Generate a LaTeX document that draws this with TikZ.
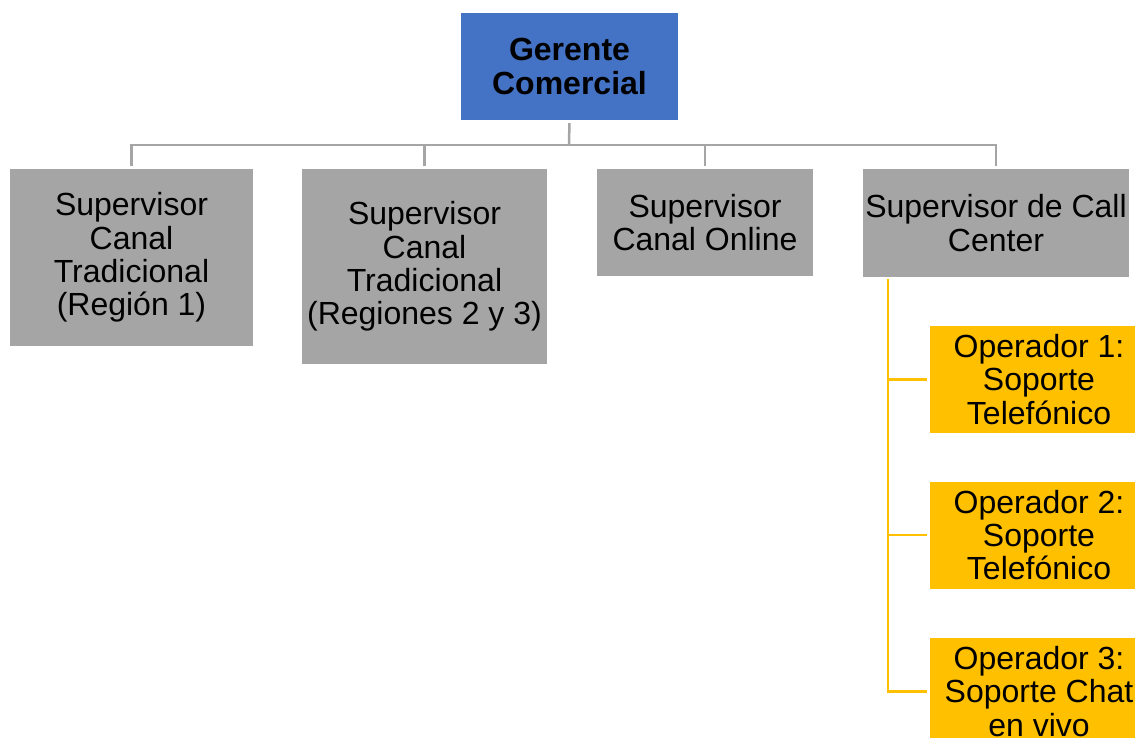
\documentclass[tikz,border=0pt]{standalone}
\usepackage{fontspec}
\setmainfont{Liberation Sans}
\definecolor{boxblue}{HTML}{4472C4}
\definecolor{boxgray}{HTML}{A5A5A5}
\definecolor{boxyel}{HTML}{FFC000}
\definecolor{linegray}{HTML}{A5A5A5}
\tikzset{
  base/.style={inner sep=0pt, align=center, font=\fontsize{32}{33.3}\selectfont, text=black},
  gerbox/.style={base, fill=boxblue, font=\fontsize{32}{33.3}\selectfont\bfseries},
  supbox/.style={base, fill=boxgray},
  opbox/.style={base, fill=boxyel},
  conn/.style={draw=linegray, line width=2.5pt},
  yconn/.style={draw=boxyel, line width=2.5pt},
}
\begin{document}
\begin{tikzpicture}[x=1pt, y=-1pt]
\useasboundingbox (0,0) rectangle (1135,738);
\begin{scope}
\clip (0,0) rectangle (1135,738);
\node[gerbox, minimum width=217pt, minimum height=107pt] (ger) at (569.5,66.5) {Gerente\\Comercial};
\node[supbox, minimum width=243pt, minimum height=177pt] (s1) at (131.5,257.5) {Supervisor\\Canal\\Tradicional\\(Región 1)};
\node[supbox, minimum width=245pt, minimum height=195pt] (s2) at (424.5,266.5) {Supervisor\\Canal\\Tradicional\\(Regiones 2 y 3)};
\node[supbox, minimum width=216pt, minimum height=107pt] (s3) at (705,222.5) {Supervisor\\Canal Online};
\node[supbox, minimum width=266pt, minimum height=108pt] (s4) at (996,223) {Supervisor de Call\\Center};
\node[opbox, minimum width=218pt, minimum height=107pt] (o1) at (1039,379.5) {Operador 1:\\Soporte\\Telefónico};
\node[opbox, minimum width=218pt, minimum height=107pt] (o2) at (1039,535) {Operador 2:\\Soporte\\Telefónico};
\node[opbox, minimum width=218pt, minimum height=107pt] (o3) at (1039,691.5) {Operador 3:\\Soporte Chat\\en vivo};
\end{scope}
\coordinate (bus) at (569,145);
\coordinate (sp) at (888,279);
\draw[conn, shorten <=3pt] (ger.south) -- (bus);
\draw[conn, shorten <=2.5pt] (s1.north) |- (bus);
\draw[conn, shorten <=2.5pt] (s4.north) |- (bus);
\draw[conn, shorten <=2.5pt] (s2.north) -- (s2.north |- bus);
\draw[conn, shorten <=2.5pt] (s3.north) -- (s3.north |- bus);
\draw[yconn, shorten >=3pt] (sp) |- (o3.west);
\draw[yconn, shorten >=3pt] (sp |- o1.west) -- (o1.west);
\draw[yconn, shorten >=3pt] (sp |- o2.west) -- (o2.west);
\end{tikzpicture}
\end{document}
